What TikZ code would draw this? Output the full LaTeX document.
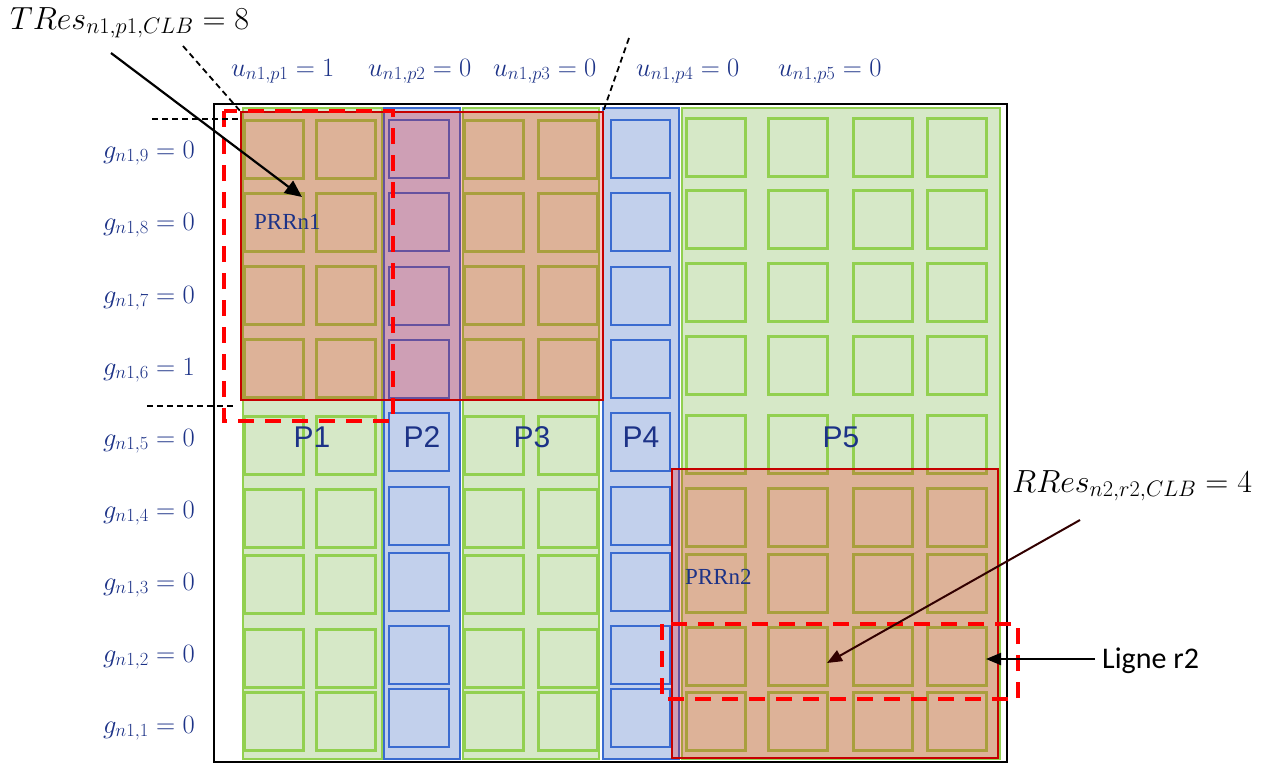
\documentclass[tikz,border=0pt]{standalone}
\usepackage{fix-cm}
\usepackage{fontspec}
\newfontfamily\arialf{Liberation Sans}
\newfontfamily\timesf{Liberation Serif}
\newfontfamily\calibrif{Carlito}
\usetikzlibrary{arrows.meta}
\definecolor{gfill}{RGB}{214,232,199}
\definecolor{gline}{RGB}{146,208,80}
\definecolor{bfill}{RGB}{194,208,236}
\definecolor{bline}{RGB}{58,107,208}
\definecolor{prrfill}{RGB}{246,0,0}
\definecolor{prrline}{RGB}{198,0,0}
\definecolor{lblue}{RGB}{28,50,135}
\definecolor{dashred}{RGB}{255,0,0}
\definecolor{darkarrow}{RGB}{50,0,0}
\begin{document}
\begin{tikzpicture}[x=1pt,y=-1pt,
  gcol/.style={fill=gfill,draw=gline,line width=2pt},
  bcol/.style={fill=bfill,draw=bline,line width=2pt},
  gcell/.style={draw=gline,line width=3pt},
  bcell/.style={draw=bline,line width=2.6pt},
  prrbox/.style={fill=prrfill,fill opacity=0.23,draw=prrline,draw opacity=1,line width=2.5pt},
  redash/.style={draw=dashred,line width=3.5pt,dash pattern=on 16pt off 11pt},
  blkdash/.style={draw=black,line width=1.8pt,dash pattern=on 6pt off 4pt},
  frame/.style={draw=black,line width=2.5pt},
  mlbl/.style={inner sep=0pt,text=lblue,font=\fontsize{26.5}{30}\selectfont},
  biglbl/.style={inner sep=0pt,text=black,font=\fontsize{32}{36}\selectfont},
  plbl/.style={inner sep=0pt,text=lblue,font=\arialf\fontsize{30}{34}\selectfont,anchor=base},
  prrlbl/.style={inner sep=0pt,text=lblue,font=\timesf\fontsize{23}{26}\selectfont,anchor=base west},
  ptr/.style={line width=2.2pt,-{Triangle[length=17pt,width=15pt]}},
  ptrthin/.style={line width=2pt,-{Triangle[length=15pt,width=12pt]}}
]
\useasboundingbox (0,0) rectangle (1266,764);
% columns
\draw[gcol] (243,108) rectangle (382,759);
\draw[bcol] (384,108) rectangle (460,759);
\draw[gcol] (463,108) rectangle (599,759);
\draw[bcol] (603,108) rectangle (679,759);
\draw[gcol] (682,108) rectangle (1000,759);
% cells
\foreach \y in {120,193,266,339,416,489,555,629,692} {
  \foreach \x in {244,316} \draw[gcell] (\x,\y) rectangle ++(59,58);
  \foreach \x in {464,538} \draw[gcell] (\x,\y) rectangle ++(59,58);
}
\foreach \y in {120,193,267,340,413,487,553,626,689} {
  \draw[bcell] (389,\y) rectangle ++(60,58);
  \draw[bcell] (611,\y) rectangle ++(59,58);
}
\foreach \y in {118,190,263,336,415,488,554,627,692} {
  \foreach \x in {686,768,853,927} \draw[gcell] (\x,\y) rectangle ++(59,58);
}
% PRR regions
\draw[prrbox] (241,112) rectangle (603,400);
\draw[prrbox] (672,469) rectangle (998,758);
% frame
\draw[frame] (214,104) rectangle (1007,762);
% dashed red boxes
\draw[redash] (224,111) rectangle (393,421);
\draw[redash] (662,624) rectangle (1018,699);
% black dashed guides
\coordinate (h1a) at (152,119); \coordinate (h1b) at (240,119);
\coordinate (h2a) at (147,406); \coordinate (h2b) at (235,406);
\coordinate (d1a) at (183,46);  \coordinate (d1b) at (241,112);
\coordinate (d2a) at (629,38);  \coordinate (d2b) at (603,112);
\draw[blkdash] (h1a) -- (h1b);
\draw[blkdash] (h2a) -- (h2b);
\draw[blkdash] (d1a) -- (d1b);
\draw[blkdash] (d2a) -- (d2b);
% labels
\node[biglbl,anchor=base west] (tres) at (10,29) {$TRes_{n1,p1,CLB}=8$};
\node[biglbl,anchor=base west] (rres) at (1012,492) {$RRes_{n2,r2,CLB}=4$};
\node[mlbl,anchor=base west] (u1) at (231,76) {$u_{n1,p1}=1$};
\node[mlbl,anchor=base west] (u2) at (368,76) {$u_{n1,p2}=0$};
\node[mlbl,anchor=base west] (u3) at (493,76) {$u_{n1,p3}=0$};
\node[mlbl,anchor=base west] (u4) at (636,76) {$u_{n1,p4}=0$};
\node[mlbl,anchor=base west] (u5) at (778,76) {$u_{n1,p5}=0$};
\node[mlbl,anchor=base east] (g9) at (195,158) {$g_{n1,9}=0$};
\node[mlbl,anchor=base east] (g8) at (195,230) {$g_{n1,8}=0$};
\node[mlbl,anchor=base east] (g7) at (195,303) {$g_{n1,7}=0$};
\node[mlbl,anchor=base east] (g6) at (195,375) {$g_{n1,6}=1$};
\node[mlbl,anchor=base east] (g5) at (195,446) {$g_{n1,5}=0$};
\node[mlbl,anchor=base east] (g4) at (195,518) {$g_{n1,4}=0$};
\node[mlbl,anchor=base east] (g3) at (195,590) {$g_{n1,3}=0$};
\node[mlbl,anchor=base east] (g2) at (195,662) {$g_{n1,2}=0$};
\node[mlbl,anchor=base east] (g1) at (195,733) {$g_{n1,1}=0$};
\node[plbl] (p1) at (312,447) {P1};
\node[plbl] (p2) at (422,447) {P2};
\node[plbl] (p3) at (532,447) {P3};
\node[plbl] (p4) at (641,447) {P4};
\node[plbl] (p5) at (841,447) {P5};
\node[prrlbl] (prr1) at (254,229) {PRRn1};
\node[prrlbl] (prr2) at (685,584) {PRRn2};
\node[inner sep=0pt,anchor=base west,font=\calibrif\fontsize{30}{34}\selectfont] (ligne) at (1102,668) {Ligne r2};
% arrows
\coordinate (tresfoot) at (111,53);
\coordinate (tresTip) at (302,197);
\draw[ptr] (tresfoot) -- (tresTip);
\coordinate (rresfoot) at (1080,520);
\coordinate (rresTip) at (827,663);
\draw[ptrthin,draw=darkarrow,fill=darkarrow] (rresfoot) -- (rresTip);
\coordinate (lignefoot) at (1095,659);
\coordinate (ligneTip) at (986,659);
\draw[ptrthin] (lignefoot) -- (ligneTip);
\end{tikzpicture}
\end{document}
